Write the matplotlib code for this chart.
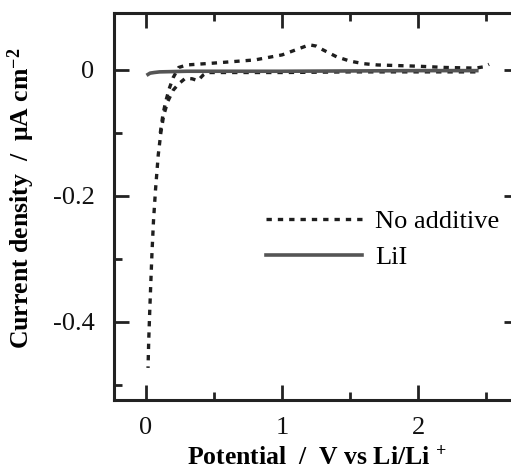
import matplotlib
matplotlib.use("Agg")
import matplotlib.pyplot as plt
from matplotlib.ticker import FixedLocator, FixedFormatter

plt.rcParams['font.family'] = ['Liberation Serif', 'DejaVu Serif']
plt.rcParams['mathtext.fontset'] = 'custom'
plt.rcParams['mathtext.rm'] = 'Liberation Serif'
plt.rcParams['mathtext.bf'] = 'Liberation Serif:bold'
plt.rcParams['mathtext.it'] = 'Liberation Serif:italic'

# No additive: cathodic scan (high potential -> 0 V)
noadd_cath_x = [2.42, 2.2, 2.0, 1.5, 1.0, 0.6, 0.45, 0.42, 0.38, 0.34, 0.29, 0.24, 0.2, 0.16,
                0.13, 0.11, 0.09, 0.07, 0.055, 0.044, 0.035, 0.028, 0.02, 0.015]
noadd_cath_y = [-0.003, -0.003, -0.003, -0.003, -0.004, -0.004, -0.004, -0.008, -0.017, -0.014,
                -0.013, -0.022, -0.032, -0.05, -0.072, -0.098, -0.135, -0.19, -0.24, -0.29,
                -0.34, -0.38, -0.43, -0.473]
# No additive: anodic (return) scan
noadd_anod_x = [0.105, 0.125, 0.145, 0.17, 0.2, 0.24, 0.3, 0.5, 0.8, 1.0, 1.1, 1.2, 1.25, 1.3,
                1.4, 1.5, 1.6, 1.7, 2.0, 2.2, 2.42, 2.48, 2.52]
noadd_anod_y = [-0.1, -0.07, -0.05, -0.03, -0.012, 0.004, 0.008, 0.011, 0.016, 0.024, 0.032,
                0.040, 0.038, 0.032, 0.021, 0.014, 0.010, 0.008, 0.006, 0.004, 0.003, 0.005, 0.009]
# LiI
lii_x = [0.015, 0.03, 0.06, 0.1, 0.3, 1.0, 2.0, 2.43]
lii_y = [-0.007, -0.005, -0.004, -0.003, -0.002, -0.002, -0.001, -0.001]

series_labels = ['No additive', 'LiI']
x_major = [0, 1, 2]
x_minor = [0.5, 1.5, 2.5]
y_major = [0, -0.2, -0.4]
y_major_labels = ['0', '-0.2', '-0.4']
y_minor = [-0.1, -0.3, -0.5]

fig = plt.figure(figsize=(5.11, 4.70), dpi=100)
ax = fig.add_axes([114/511, 70/470, (519-114)/511, (400-13)/470])

dash_color = '#1e1e1e'
solid_color = '#555555'
ax.plot(noadd_cath_x, noadd_cath_y, color=dash_color, lw=2.4, dashes=(1.6, 1.8),
        label=series_labels[0])
ax.plot(noadd_anod_x, noadd_anod_y, color=dash_color, lw=2.4, dashes=(1.6, 1.8))
ax.plot(lii_x, lii_y, color=solid_color, lw=2.6, label=series_labels[1])

ax.set_xlim(-0.235, 2.74)
ax.set_ylim(-0.524, 0.0905)

ax.xaxis.set_major_locator(FixedLocator(x_major))
ax.xaxis.set_minor_locator(FixedLocator(x_minor))
ax.yaxis.set_major_locator(FixedLocator(y_major))
ax.yaxis.set_major_formatter(FixedFormatter(y_major_labels))
ax.yaxis.set_minor_locator(FixedLocator(y_minor))

for s in ax.spines.values():
    s.set_linewidth(2.2)
    s.set_color('#222222')
ax.tick_params(which='both', direction='in', top=True, right=True, width=2.0, color='#222222',
               labelsize=19, labelcolor='#111111')
ax.tick_params(which='major', length=11)
ax.tick_params(which='minor', length=6)
ax.tick_params(axis='y', which='major', pad=14)
ax.tick_params(axis='x', which='major', pad=12)

ax.set_ylabel(r'Current density  /  $\mathbf{\mu}$A cm$^{\mathbf{-2}}$', fontsize=18.5,
              fontweight='bold')
ax.yaxis.set_label_coords(-0.19, 0.52)
ax.set_xlabel(r'Potential  /  V vs Li/Li $^{\mathbf{+}}$', fontsize=18.5, fontweight='bold',
              labelpad=5)

leg = ax.legend(loc='upper left', bbox_to_anchor=(266/511, 1 - 210/470),
                bbox_transform=fig.transFigure, frameon=False, fontsize=19,
                handlelength=3.64, handletextpad=0.5, labelspacing=0.45, borderpad=0,
                borderaxespad=0)

fig.savefig('out.png', dpi=100)
